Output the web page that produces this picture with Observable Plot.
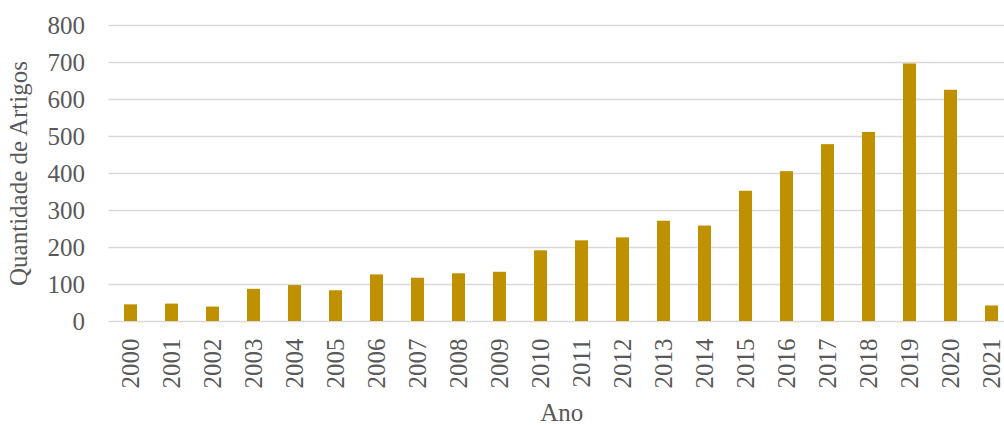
<!DOCTYPE html>
<html>
<head>
<meta charset="utf-8">
<script src="https://cdn.jsdelivr.net/npm/d3@7"></script>
<script src="https://cdn.jsdelivr.net/npm/@observablehq/plot@0.6"></script>
<style>
  html, body { margin: 0; padding: 0; background: #fff; overflow: hidden; width: 1004px; height: 425px; }
  #chart { width: 1004px; height: 425px; overflow: hidden; }
  #chart svg { display: block; max-width: none !important; }
</style>
</head>
<body>
<div id="chart"></div>
<script>
const years = ["2000","2001","2002","2003","2004","2005","2006","2007","2008","2009","2010",
               "2011","2012","2013","2014","2015","2016","2017","2018","2019","2020","2021"];
const artigos = [45, 47, 39, 87, 97, 83, 126, 117, 129, 133, 191,
                 218, 226, 271, 258, 352, 405, 478, 511, 696, 625, 42];
const yTicks = [0, 100, 200, 300, 400, 500, 600, 700, 800];

const data = years.map((ano, i) => ({ano, n: artigos[i]}));

const textColor = "#595959";
const font = "'Liberation Serif', 'Times New Roman', serif";

const chart = Plot.plot({
  width: 1014,
  height: 425,
  marginLeft: 108.5,
  marginRight: 0,
  marginTop: 25,
  marginBottom: 104,
  style: { fontFamily: font, fontSize: "25px", color: textColor, background: "#fff", maxWidth: "none" },
  x: { domain: years, paddingInner: 0.68, paddingOuter: 0.34 },
  y: { domain: [0, 800] },
  marks: [
    Plot.gridY(yTicks, { stroke: "#d9d9d9", strokeOpacity: 1, strokeWidth: 1.5 }),
    Plot.barY(data, { x: "ano", y: "n", fill: "#BF9000" }),
    Plot.axisY(yTicks, {
      tickSize: 0, tickPadding: 24, fill: textColor, fontSize: 25,
      label: "Quantidade de Artigos", labelAnchor: "center", labelArrow: "none", labelOffset: 100
    }),
    Plot.axisX({
      tickSize: 0, tickPadding: 17, tickRotate: -90, fill: textColor, fontSize: 25,
      label: "Ano", labelAnchor: "center", labelArrow: "none", labelOffset: 99
    })
  ]
});
document.getElementById("chart").appendChild(chart);
</script>
</body>
</html>
